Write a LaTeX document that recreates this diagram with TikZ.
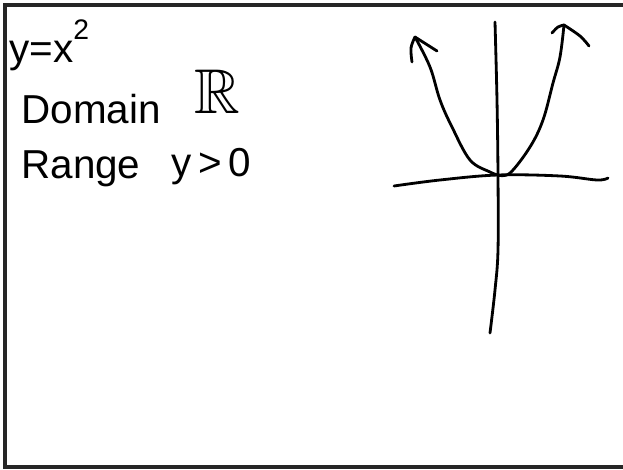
\documentclass[tikz,border=0pt]{standalone}
\usepackage{fontspec}
\setmainfont{Liberation Sans}
\usepackage{amssymb}
\definecolor{ink}{HTML}{000000}
\definecolor{pageframe}{HTML}{262626}

\begin{document}
\begin{tikzpicture}[x=0.02cm, y=-0.02cm, line width=1.6pt, line cap=round, line join=round,
    font=\fontsize{23}{27}\selectfont]
  % x: pixel column 0..623, y: pixel row 0..470 (counted downwards)
  \useasboundingbox (0,0) rectangle (623,470);

  % page frame, open on the right
  \draw[pageframe, line width=2.2pt, line cap=butt, line join=miter]
     (623,5) -- (5,5) -- (5,467) -- (623,467);

  % notes on the left
  \node[ink, anchor=base west, inner sep=0pt] (yeq) at (8,62) {y=x\raisebox{4pt}{\textsuperscript{2}}};
  \node[ink, anchor=base west, inner sep=0pt] (domain) at (20,123) {Domain};
  \node[ink, anchor=base west, inner sep=0pt, font=\fontsize{36}{40}\selectfont]
     (domset) at (193,113) {$\mathbb{R}$};
  \node[ink, anchor=base west, inner sep=0pt] (range) at (20,178) {Range};
  \node[ink, anchor=base west, inner sep=0pt] (rangecond) at (170,176) {y\,{>}\,0};

  % x axis
  \draw[ink] plot[smooth,tension=0.6] coordinates
     {(394,186) (440,180) (498,175) (560,176) (597,180) (608,178)};
  % y axis
  \draw[ink] plot[smooth,tension=0.6] coordinates
     {(495,22) (497,100) (498,175) (498,250) (495,290) (490,333)};

  % parabola, left branch
  \draw[ink] plot[smooth,tension=0.6] coordinates
     {(498,175) (490,172) (470,160) (452,127) (440,100) (430,67) (415,37)};
  % parabola, right branch
  \draw[ink] plot[smooth,tension=0.6] coordinates
     {(498,175) (510,173) (530,147) (543,120) (553,83) (560,57) (564,25)};

  % hand-drawn arrow heads
  \draw[ink] plot[smooth,tension=0.6] coordinates {(412,62) (411,48) (415,37)};
  \draw[ink] plot[smooth,tension=0.6] coordinates {(415,37) (426,44) (437,51)};
  \draw[ink] plot[smooth,tension=0.6] coordinates {(552,33) (558,27) (564,25)};
  \draw[ink] plot[smooth,tension=0.6] coordinates {(564,25) (580,36) (589,46)};
\end{tikzpicture}
\end{document}
